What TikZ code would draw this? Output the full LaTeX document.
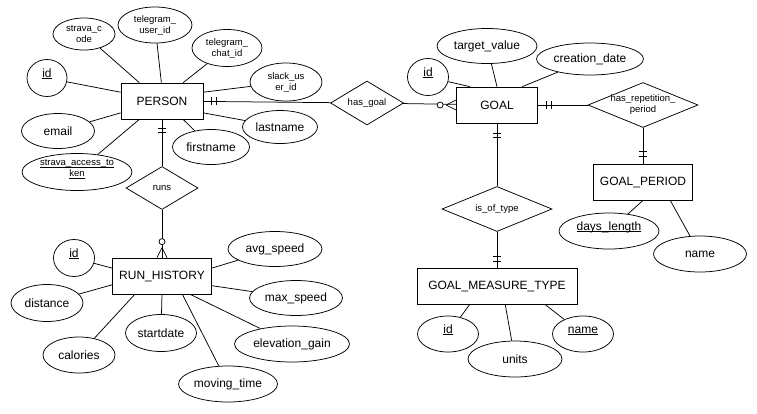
\documentclass[tikz,border=0pt]{standalone}
\usepackage{fontspec}
\setmainfont{Liberation Sans}
\usetikzlibrary{shapes.geometric}

\newcommand{\pk}[1]{\underline{\smash{#1}}}

\begin{document}
\begin{tikzpicture}[x=1pt, y=-1pt, line width=0.75pt,
    entity/.style={draw, rectangle, minimum height=36pt, inner sep=0pt, font=\fontsize{12}{14}\selectfont},
    attr/.style={draw, ellipse, inner sep=0pt, fill=white, font=\fontsize{12}{14}\selectfont},
    smallattr/.style={attr, align=center, font=\fontsize{9.5}{11}\selectfont},
    rel/.style={draw, diamond, inner sep=0pt, align=center, font=\fontsize{9.5}{11}\selectfont}]
	\useasboundingbox (0,0) rectangle (757,413);

	% entities
	\node[entity, minimum width=82pt] (person) at (162,101) {PERSON};
	\node[entity, minimum width=81pt] (goal) at (497,105) {GOAL};
	\node[entity, minimum width=99pt] (runhist) at (162,276) {RUN\_HISTORY};
	\node[entity, minimum width=99pt] (goalperiod) at (643,182) {GOAL\_PERIOD};
	\node[entity, minimum width=160pt] (measuretype) at (497,286) {GOAL\_MEASURE\_TYPE};

	% relationships
	\node[rel, aspect=1.66, minimum width=73pt, minimum height=44pt] (hasgoal) at (367,103) {has\_goal};
	\node[rel, aspect=2.44, inner sep=-6pt, minimum width=110pt, minimum height=45pt] (hasperiod) at (643,105) {has\_repetition\_\\period};
	\node[rel, aspect=1.67, minimum width=72pt, minimum height=43pt] (runs) at (162,188) {runs};
	\node[rel, aspect=2.44, minimum width=110pt, minimum height=45pt] (istype) at (497,209) {is\_of\_type};

	% attributes of PERSON
	\node[smallattr, minimum width=62pt, minimum height=32pt] (scode) at (84,34) {strava\_c\\ode};
	\node[smallattr, minimum width=74pt, minimum height=36pt] (tguser) at (155,25) {telegram\_\\user\_id};
	\node[smallattr, minimum width=70pt, minimum height=37pt] (tgchat) at (227,48) {telegram\_\\chat\_id};
	\node[smallattr, minimum width=72pt, minimum height=38pt] (slack) at (286,82) {slack\_us\\er\_id};
	\node[attr, minimum width=40pt, minimum height=37pt] (pid) at (47,78) {\pk{id}};
	\node[attr, minimum width=73pt, minimum height=35pt] (email) at (58,131) {email};
	\node[smallattr, minimum width=110pt, minimum height=37pt] (token) at (77,172) {\pk{strava\_access\_to}\\\pk{ken}};
	\node[attr, minimum width=77pt, minimum height=35pt] (firstname) at (211,147) {firstname};
	\node[attr, minimum width=75pt, minimum height=33pt] (lastname) at (280,127) {lastname};

	% attributes of GOAL
	\node[attr, minimum width=41pt, minimum height=37pt] (gid) at (428,77) {\pk{id}};
	\node[attr, minimum width=100pt, minimum height=35pt] (target) at (487,46) {target\_value};
	\node[attr, minimum width=107pt, minimum height=32pt] (created) at (590,59) {creation\_date};

	% attributes of GOAL_PERIOD
	\node[attr, minimum width=100pt, minimum height=36pt] (days) at (609,231) {\pk{days\_length}};
	\node[attr, minimum width=93pt, minimum height=36pt] (pname) at (700,254) {name};

	% attributes of GOAL_MEASURE_TYPE
	\node[attr, minimum width=61pt, minimum height=36pt] (mid) at (448,334) {\pk{id}};
	\node[attr, minimum width=94pt, minimum height=36pt] (units) at (515,359) {units};
	\node[attr, minimum width=61pt, minimum height=36pt] (mname) at (583,334) {\pk{name}};

	% attributes of RUN_HISTORY
	\node[attr, minimum width=41pt, minimum height=37pt] (rid) at (74,258) {\pk{id}};
	\node[attr, minimum width=94pt, minimum height=35pt] (avgspeed) at (275,249) {avg\_speed};
	\node[attr, minimum width=72pt, minimum height=37pt] (distance) at (47,303) {distance};
	\node[attr, minimum width=93pt, minimum height=35pt] (maxspeed) at (296,298) {max\_speed};
	\node[attr, minimum width=71pt, minimum height=37pt] (startdate) at (161,333) {startdate};
	\node[attr, minimum width=115pt, minimum height=36pt] (elevation) at (292,344) {elevation\_gain};
	\node[attr, minimum width=72pt, minimum height=36pt] (calories) at (79,355) {calories};
	\node[attr, minimum width=99pt, minimum height=36pt] (movingtime) at (228,384) {moving\_time};

	% attribute links
	\draw (scode) -- (person.141);
	\draw (tguser) -- (person.92);
	\draw (tgchat) -- (person.41);
	\draw (slack) -- (person.12);
	\draw (pid) -- (person.168);
	\draw (email) -- (person.196);
	\draw (token) -- (person.219);
	\draw (firstname) -- (person.319);
	\draw (lastname) -- (person.344);
	\draw (gid) -- (goal.146);
	\draw (target) -- (goal.90);
	\draw (created) -- (goal.36);
	\draw (days) -- (goalperiod.270);
	\draw (pname) -- (goalperiod.326);
	\draw (mid) -- (measuretype.214);
	\draw (units) -- (measuretype.294);
	\draw (mname) -- (measuretype.339);
	\draw (rid) -- (runhist.171);
	\draw (avgspeed) -- (runhist.9);
	\draw (distance) -- (runhist.190);
	\draw (maxspeed) -- (runhist.349);
	\draw (startdate) -- (runhist.270);
	\draw (elevation) -- (runhist.327);
	\draw (calories) -- (runhist.214);
	\draw (movingtime) -- (runhist.318);

	% relationship links
	\draw (person) -- (hasgoal);
	\draw (hasgoal) -- (goal);
	\draw (goal) -- (hasperiod);
	\draw (hasperiod) -- (goalperiod);
	\draw (goal) -- (istype);
	\draw (istype) -- (measuretype);
	\draw (person) -- (runs);
	\draw (runs) -- (runhist);

	% one and only one
	\draw ([xshift=8pt]person.east) +(0,-4) -- +(0,4);
	\draw ([xshift=13pt]person.east) +(0,-4) -- +(0,4);
	\draw ([yshift=-9pt]person.south) +(-4,0) -- +(4,0);
	\draw ([yshift=-13pt]person.south) +(-4,0) -- +(4,0);
	\draw ([xshift=8.5pt]goal.east) +(0,-4) -- +(0,4);
	\draw ([xshift=13.5pt]goal.east) +(0,-4) -- +(0,4);
	\draw ([yshift=-10pt]goal.south) +(-4,0) -- +(4,0);
	\draw ([yshift=-14pt]goal.south) +(-4,0) -- +(4,0);
	\draw ([yshift=7pt]goalperiod.north) +(-4,0) -- +(4,0);
	\draw ([yshift=12pt]goalperiod.north) +(-4,0) -- +(4,0);
	\draw ([yshift=6pt]measuretype.north) +(-4,0) -- +(4,0);
	\draw ([yshift=11pt]measuretype.north) +(-4,0) -- +(4,0);

	% zero or many
	\draw ([xshift=-10pt]goal.west) -- ([yshift=5pt]goal.west)
		([xshift=-10pt]goal.west) -- ([yshift=-5pt]goal.west);
	\draw[fill=white] ([xshift=-16pt]goal.west) circle (3pt);
	\draw ([yshift=10pt]runhist.north) -- ([xshift=-5pt]runhist.north)
		([yshift=10pt]runhist.north) -- ([xshift=5pt]runhist.north);
	\draw[fill=white] ([yshift=16pt]runhist.north) circle (3pt);
\end{tikzpicture}
\end{document}
